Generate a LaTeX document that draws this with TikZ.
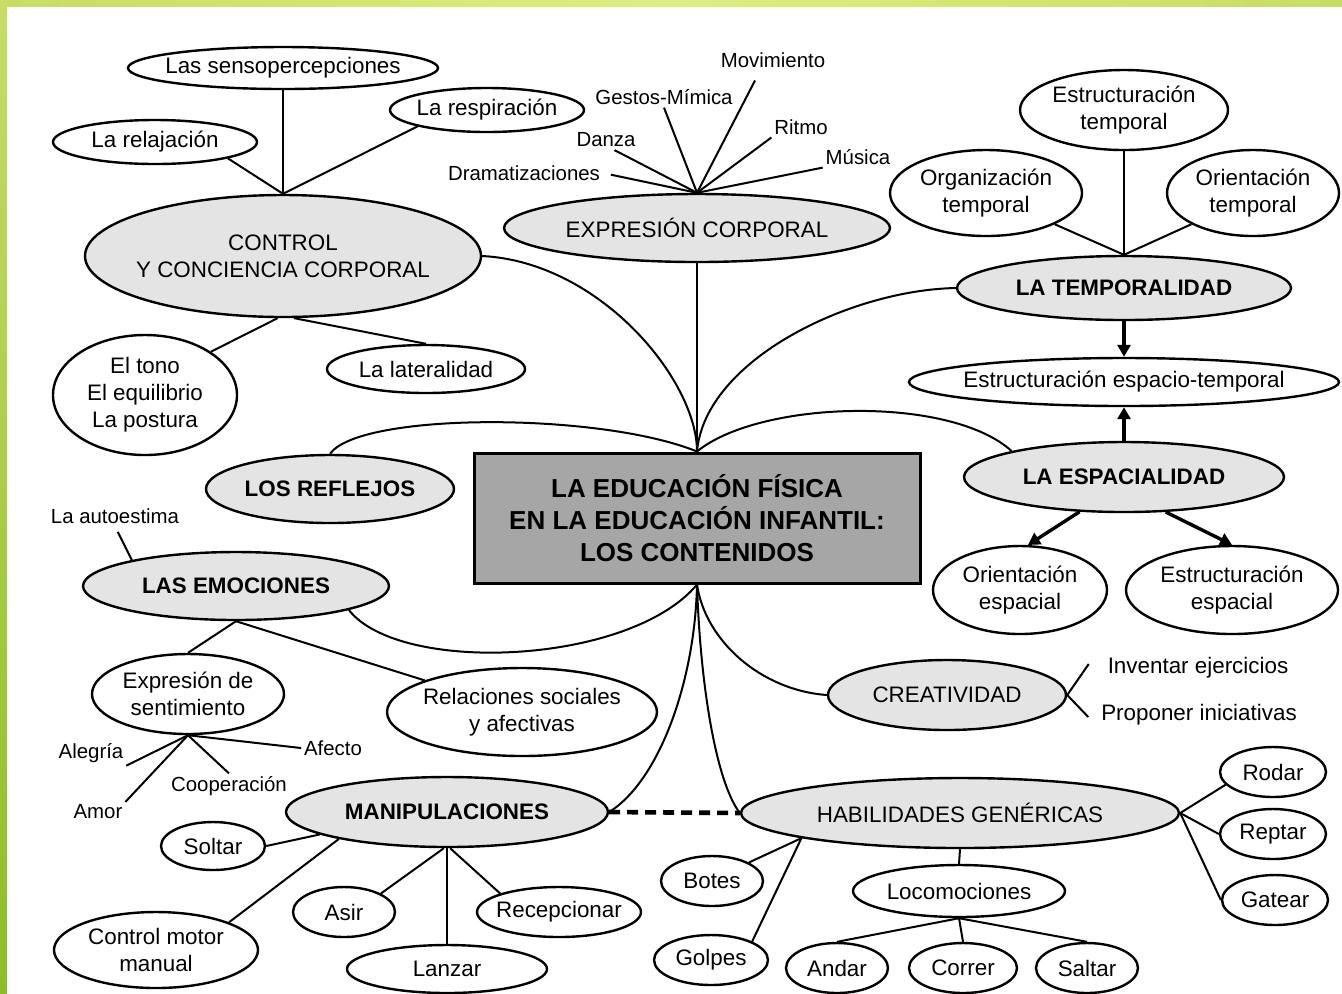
\documentclass[tikz,border=0pt]{standalone}
\usepackage{fontspec}
\setmainfont{Liberation Sans}
\usetikzlibrary{shapes.geometric,arrows.meta}
\definecolor{grisclaro}{RGB}{228,228,228}
\definecolor{griscaja}{RGB}{166,166,166}
\definecolor{verdeA}{RGB}{198,221,102}
\definecolor{verdeB}{RGB}{222,238,128}
\definecolor{verdeC}{RGB}{142,188,42}
\begin{document}
\begin{tikzpicture}[x=0.5pt,y=-0.5pt,line width=1pt,
  hoja/.style 2 args={ellipse,draw,line width=1.2pt,fill=white,
    minimum width=#1pt,minimum height=#2pt,inner xsep=-14pt,inner ysep=-4pt,
    align=center,font=\fontsize{11.2}{13.5}\selectfont},
  tema/.style 2 args={hoja={#1}{#2},fill=grisclaro},
  temab/.style 2 args={tema={#1}{#2},font=\fontsize{11.2}{13.5}\selectfont\bfseries},
  etiq/.style={inner sep=1pt,font=\fontsize{10.2}{12}\selectfont},
  etiqg/.style={inner sep=1pt,font=\fontsize{11.2}{13.5}\selectfont},
  flecha/.style={line width=1.7pt,-{Triangle[length=6pt,width=6.5pt]}},
  discont/.style={line width=2.3pt,dash pattern=on 5.5pt off 3.5pt}]
\useasboundingbox (0,0) rectangle (1342,993);
\shade[left color=verdeA,right color=verdeA,middle color=verdeB] (0,0) rectangle (1342,6);
\shade[top color=verdeA,bottom color=verdeC] (0,0) rectangle (7,993);

% centro
\node[draw,line width=1.5pt,fill=griscaja,minimum width=223pt,minimum height=65pt,
  align=center,font=\fontsize{13}{16}\selectfont\bfseries] (caja) at (697,518)
  {LA EDUCACIÓN FÍSICA\\EN LA EDUCACIÓN INFANTIL:\\LOS CONTENIDOS};
\coordinate (arriba) at (caja.north);
\coordinate (abajo) at (caja.south);

% bloques
\node[tema={198}{61}] (control) at (283,256) {CONTROL\\Y CONCIENCIA CORPORAL};
\node[tema={193}{34}] (expres) at (697,228) {EXPRESIÓN CORPORAL};
\node[temab={167}{32}] (tempo) at (1124,288) {LA TEMPORALIDAD};
\node[temab={160}{35}] (espac) at (1124,477) {LA ESPACIALIDAD};
\node[temab={124}{34}] (reflej) at (330,489) {LOS REFLEJOS};
\node[temab={153}{34}] (emoc) at (236,586) {LAS EMOCIONES};
\node[tema={119}{35}] (creat) at (947,695) {CREATIVIDAD};
\node[temab={161}{35}] (manip) at (447,812) {MANIPULACIONES};
\node[tema={219}{35}] (habil) at (960,813) {HABILIDADES GENÉRICAS};

% hojas
\node[hoja={155}{21}] (sens) at (283,68) {Las sensopercepciones};
\node[hoja={102}{22}] (relaj) at (155,142) {La relajación};
\node[hoja={97}{22}] (resp) at (487,110) {La respiración};
\node[hoja={92}{60}] (tono) at (145,395) {El tono\\El equilibrio\\La postura};
\node[hoja={99}{24}] (later) at (426,369) {La lateralidad};
\node[hoja={104}{40}] (esttemp) at (1124,110) {Estructuración\\temporal};
\node[hoja={96}{43}] (orgtemp) at (986,193) {Organización\\temporal};
\node[hoja={86}{43}] (oritemp) at (1253,193) {Orientación\\temporal};
\node[hoja={215}{24}] (espatemp) at (1124,382) {Estructuración espacio-temporal};
\node[hoja={87}{44}] (oriesp) at (1020,590) {Orientación\\espacial};
\node[hoja={106}{44}] (estesp) at (1232,590) {Estructuración\\espacial};
\node[hoja={96}{40}] (exprsen) at (188,694) {Expresión de\\sentimiento};
\node[hoja={135}{44}] (relsoc) at (522,712) {Relaciones sociales\\y afectivas};
\node[hoja={52}{24}] (soltar) at (213,846) {Soltar};
\node[hoja={102}{38}] (ctrlmot) at (156,950) {Control motor\\manual};
\node[hoja={51}{25}] (asir) at (344,912) {Asir};
\node[hoja={100}{24}] (lanzar) at (447,969) {Lanzar};
\node[hoja={82}{25}] (recep) at (559,912) {Recepcionar};
\node[hoja={53}{25}] (rodar) at (1273,772) {Rodar};
\node[hoja={53}{25}] (reptar) at (1273,834) {Reptar};
\node[hoja={53}{25}] (gatear) at (1275,900) {Gatear};
\node[hoja={51}{25}] (botes) at (712,881) {Botes};
\node[hoja={57}{25}] (golpes) at (711,960) {Golpes};
\node[hoja={106}{26}] (locom) at (959,891) {Locomociones};
\node[hoja={51}{25}] (andar) at (837,968) {Andar};
\node[hoja={54}{25}] (correr) at (963,968) {Correr};
\node[hoja={51}{25}] (saltar) at (1087,968) {Saltar};

% textos sueltos
\node[etiq] (dram) at (524,173) {Dramatizaciones};
\node[etiq] (danza) at (606,140) {Danza};
\node[etiq] (gestos) at (664,97) {Gestos-Mímica};
\node[etiq] (movim) at (773,60) {Movimiento};
\node[etiq] (ritmo) at (801,127) {Ritmo};
\node[etiq] (musica) at (858,157) {Música};
\node[etiq] (autoest) at (115,516) {La autoestima};
\node[etiq] (alegria) at (91,753) {Alegría};
\node[etiq] (amor) at (98,812) {Amor};
\node[etiq] (coop) at (229,786) {Cooperación};
\node[etiq] (afecto) at (333,748) {Afecto};
\node[etiqg] (invent) at (1198,668) {Inventar ejercicios};
\node[etiqg] (propon) at (1199,715) {Proponer iniciativas};

% ramas del centro
\draw (arriba) .. controls (697,380) and (600,262) .. (control.east);
\draw (arriba) -- (expres.south);
\draw (arriba) .. controls (705,360) and (850,290) .. (tempo.west);
\draw (arriba) .. controls (600,412) and (360,412) .. (reflej.north);
\draw (arriba) .. controls (760,400) and (950,395) .. (espac.167);
\draw (abajo) .. controls (630,665) and (400,675) .. (emoc.-12);
\draw (abajo) .. controls (695,680) and (660,780) .. (manip.east);
\draw (abajo) .. controls (700,680) and (715,780) .. (habil.west);
\draw (abajo) .. controls (705,640) and (760,690) .. (creat.west);

\draw (control.north) -- (sens.south);
\draw (control.north) -- (relaj.south east);
\draw (control.north) -- (resp.south west);
\draw (control.-95) -- (tono.north east);
\draw (control.-80) -- (later.north);

\draw[shorten >=4pt] (expres.north) -- (dram.east);
\draw (expres.north) -- (danza.-50);
\draw (expres.north) -- (gestos.south);
\draw (expres.north) -- ([xshift=-9pt,yshift=-5pt]movim.south);
\draw (expres.north) -- (ritmo.south west);
\draw (expres.north) -- (musica.south west);

\draw (tempo.north) -- (esttemp.south);
\draw (tempo.north) -- (orgtemp.south east);
\draw (tempo.north) -- (oritemp.south west);
\draw[flecha] (tempo.south) -- (espatemp.north);
\draw[flecha] (espac.north) -- (espatemp.south);
\draw[flecha] (espac.-142) -- (oriesp.80);
\draw[flecha] (espac.-40) -- (estesp.north);

\draw[shorten >=3pt] (emoc.166) -- (autoest.south);
\draw (emoc.south) -- (exprsen.north);
\draw (emoc.south) -- (relsoc.162);
\coordinate (nudo) at (exprsen.south);
\draw (nudo) -- (alegria.south east);
\draw (nudo) -- (amor.north east);
\draw (nudo) -- (coop.north);
\draw (nudo) -- (afecto.west);

\draw (creat.east) -- ([xshift=-8pt,yshift=2pt]invent.west);
\draw (creat.east) -- ([xshift=-5pt,yshift=-1pt]propon.west);

\draw (manip.190) -- (soltar.east);
\draw (manip.194) -- (ctrlmot.north east);
\draw (manip.-95) -- (asir.north east);
\draw (manip.south) -- (lanzar.north);
\draw (manip.-85) -- (recep.north west);
\draw[discont] (manip.east) -- (habil.west);

\draw (habil.east) -- (rodar.195);
\draw (habil.east) -- (reptar.west);
\draw (habil.east) -- (gatear.west);
\draw (habil.-171) -- (botes.north east);
\draw (habil.-171) -- (golpes.north east);
\draw (habil.south) -- (locom.north);
\draw (locom.south) -- (andar.north);
\draw (locom.south) -- (correr.north);
\draw (locom.south) -- (saltar.north);
\end{tikzpicture}
\end{document}
